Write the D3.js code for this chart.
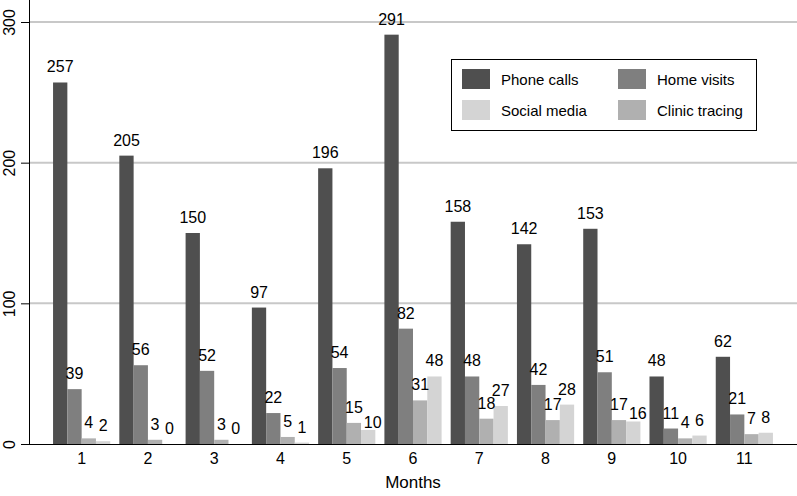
<!DOCTYPE html>
<html>
<head>
<meta charset="utf-8">
<script src="https://cdn.jsdelivr.net/npm/d3@7"></script>
<style>
    body { margin: 0; background: #fff; }
    svg { display: block; font-family: "Liberation Sans", Arial, sans-serif; }
</style>
</head>
<body>
<div id="chart"></div>
<script>
// Data
const months = ['1', '2', '3', '4', '5', '6', '7', '8', '9', '10', '11'];
const phoneCalls = [257, 205, 150, 97, 196, 291, 158, 142, 153, 48, 62];
const homeVisits = [39, 56, 52, 22, 54, 82, 48, 42, 51, 11, 21];
const clinicTracing = [4, 3, 3, 5, 15, 31, 18, 17, 17, 4, 7];
const socialMedia = [2, 0, 0, 1, 10, 48, 27, 28, 16, 6, 8];
const yTicks = [0, 100, 200, 300];

// bar order inside each month group
const series = [
    { name: 'Phone calls', values: phoneCalls, color: '#4f4f4f' },
    { name: 'Home visits', values: homeVisits, color: '#7f7f7f' },
    { name: 'Clinic tracing', values: clinicTracing, color: '#b0b0b0' },
    { name: 'Social media', values: socialMedia, color: '#d4d4d4' }
];
// legend order (two columns)
const legendOrder = ['Phone calls', 'Home visits', 'Social media', 'Clinic tracing'];

const width = 797, height = 496;
const svg = d3.select('#chart').append('svg')
    .attr('width', width)
    .attr('height', height);

const y = d3.scaleLinear().domain([0, 300]).range([444, 22]);
const x0 = d3.scaleBand().domain(months).range([29, 797])
    .paddingInner(0.137).paddingOuter(0.363);
const x1 = d3.scaleBand().domain(series.map(s => s.name)).range([0, x0.bandwidth()]);

// gridlines
svg.append('g')
    .selectAll('line')
    .data(yTicks.filter(t => t > 0))
    .join('line')
    .attr('x1', 29).attr('x2', width)
    .attr('y1', d => y(d)).attr('y2', d => y(d))
    .attr('stroke', '#c8c8c8')
    .attr('stroke-width', 2);

// bars
const groups = svg.append('g')
    .selectAll('g')
    .data(months)
    .join('g')
    .attr('transform', d => `translate(${x0(d)},0)`);

groups.selectAll('rect')
    .data((m, i) => series.map(s => ({ name: s.name, color: s.color, value: s.values[i] })))
    .join('rect')
    .attr('x', d => x1(d.name))
    .attr('width', x1.bandwidth())
    .attr('y', d => y(d.value))
    .attr('height', d => y(0) - y(d.value))
    .attr('fill', d => d.color);

groups.each(function() {
    const labels = d3.select(this).selectAll('text')
        .data(d3.select(this).selectAll('rect').data())
        .join('text')
        .attr('x', d => x1(d.name) + x1.bandwidth() / 2)
        .attr('y', d => y(d.value) - 10)
        .attr('text-anchor', 'middle')
        .attr('font-size', 16)
        .attr('fill', '#000')
        .text(d => d.value);

    // labels at almost the same height that collide: push the right one down a bit
    const nodes = labels.nodes();
    for (let i = 1; i < nodes.length; i++) {
        const a = nodes[i - 1].getBBox(), b = nodes[i].getBBox();
        const overlapX = a.x + a.width - b.x;
        if (overlapX > 0 && Math.abs(a.y - b.y) < 8) {
            const d = d3.select(nodes[i]).datum();
            const yb = +nodes[i].getAttribute('y');
            const shifted = Math.min(yb + b.height * 0.45, y(d.value) - 2);
            d3.select(nodes[i])
                .attr('y', Math.max(yb, shifted))
                .attr('x', +nodes[i].getAttribute('x') + overlapX + 1);
        }
    }
});

// y axis
const yAxis = svg.append('g')
    .attr('transform', 'translate(29,0)')
    .call(d3.axisLeft(y).tickValues(yTicks).tickSize(8).tickPadding(0).tickFormat(d3.format('d')));
yAxis.select('.domain').remove();
yAxis.selectAll('.tick line').attr('stroke', '#000');
yAxis.selectAll('.tick text')
    .attr('font-size', 16)
    .attr('font-family', '"Liberation Sans", Arial, sans-serif')
    .attr('fill', '#000')
    .attr('text-anchor', 'middle')
    .attr('transform', 'translate(-20,0) rotate(-90)')
    .attr('x', 0)
    .attr('dy', '0.35em');
svg.append('line')
    .attr('x1', 29.5).attr('x2', 29.5)
    .attr('y1', 0).attr('y2', 445)
    .attr('stroke', '#000');

// x axis
const xAxis = svg.append('g')
    .attr('transform', 'translate(0,444)')
    .call(d3.axisBottom(x0).tickSize(0).tickPadding(6));
xAxis.select('.domain').remove();
xAxis.selectAll('.tick text')
    .attr('font-size', 16)
    .attr('font-family', '"Liberation Sans", Arial, sans-serif')
    .attr('fill', '#000')
    .attr('dy', '0.9em');
svg.append('line')
    .attr('x1', 29).attr('x2', width)
    .attr('y1', 444.5).attr('y2', 444.5)
    .attr('stroke', '#000');

svg.append('text')
    .attr('x', 413)
    .attr('y', 488)
    .attr('text-anchor', 'middle')
    .attr('font-size', 17)
    .text('Months');

// legend
const legend = svg.append('g');
legend.append('rect')
    .attr('x', 451.5).attr('y', 59.5)
    .attr('width', 305).attr('height', 71)
    .attr('fill', '#fff')
    .attr('stroke', '#000');

const colorOf = name => series.find(s => s.name === name).color;
const items = legend.selectAll('g.item')
    .data(legendOrder)
    .join('g')
    .attr('class', 'item')
    .attr('transform', (d, i) => `translate(${i % 2 === 0 ? 462 : 618},${i < 2 ? 69 : 100})`);
items.append('rect')
    .attr('width', 28).attr('height', 20)
    .attr('fill', d => colorOf(d));
items.append('text')
    .attr('x', 39)
    .attr('y', 16)
    .attr('font-size', 15)
    .text(d => d);
</script>
</body>
</html>
